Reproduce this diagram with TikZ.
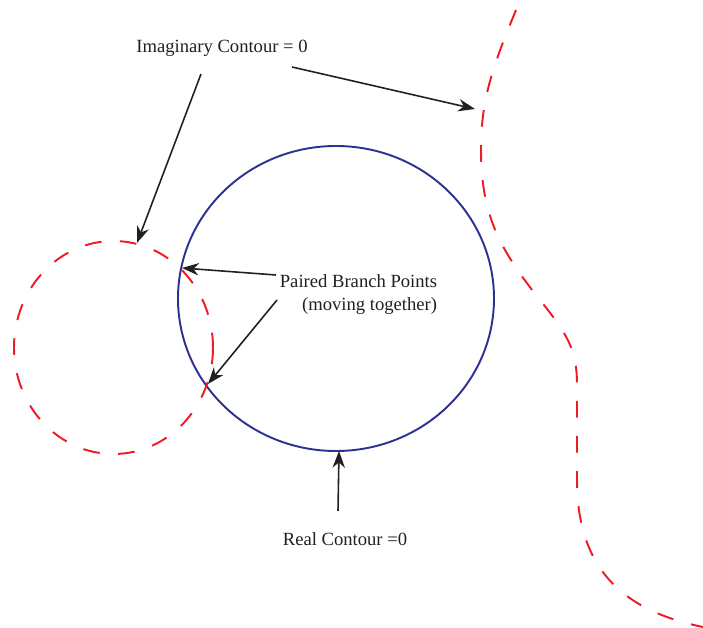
\documentclass[tikz,border=0pt]{standalone}
\usepackage{fontspec}
\setmainfont{Liberation Serif}
\usetikzlibrary{arrows.meta,positioning}
\definecolor{realcol}{RGB}{46,49,146}
\definecolor{imagcol}{RGB}{237,28,36}
\definecolor{textcol}{RGB}{35,31,32}

\begin{document}
\begin{tikzpicture}[
  x=0.02cm, y=-0.02cm,
  real contour/.style={draw=realcol, line width=1.1pt},
  imag contour/.style={draw=imagcol, line width=1.1pt,
                       dash pattern=on 9.5pt off 10.5pt},
  label text/.style={text=textcol, font=\fontsize{10.6}{13}\selectfont,
                     inner sep=0pt, align=right},
  pointer/.style={-{Stealth[length=9.5pt,width=7pt,inset=3pt]},
                  draw=textcol, line width=0.9pt},
]
  \useasboundingbox (0,0) rectangle (703,628);

  % Real contour (solid ellipse)
  \draw[real contour] (336,298.5) ellipse [x radius=158, y radius=152.5];

  % Imaginary contour, closed loop on the left
  \draw[imag contour] (113.5,347.5) ellipse [x radius=99.5, y radius=106.5];

  % Imaginary contour, open branch on the right
  \draw[imag contour] (516,10) .. controls (492,68) and (481,100) .. (481,150)
    .. controls (481,215) and (500,250) .. (540,300)
    .. controls (568,335) and (577,350) .. (577,385)
    -- (577,480) .. controls (577,575) and (630,612) .. (703,627);

  % Labels
  \node[label text] (imag) at (222,48) {Imaginary Contour = 0};
  \node[label text] (paired) at (358.5,294.5) {Paired Branch Points\\(moving together)};
  \node[label text] (real) at (345,539) {Real Contour =0};

  % Arrow ends
  \coordinate (imagA) at (201,74);
  \coordinate (imagB) at (292,67);
  \coordinate (pairA) at (276,275);
  \coordinate (pairB) at (277,300);
  \coordinate (realA) at (338,511);
  \coordinate (loopTop) at (137,243);
  \coordinate (branchTop) at (475,109);
  \coordinate (bp1) at (182,268);
  \coordinate (bp2) at (208,384);
  \coordinate (realBottom) at (339,451);

  % Pointers
  \draw[pointer] (imagA) -- (loopTop);
  \draw[pointer] (imagB) -- (branchTop);
  \draw[pointer] (pairA) -- (bp1);
  \draw[pointer] (pairB) -- (bp2);
  \draw[pointer] (realA) -- (realBottom);
\end{tikzpicture}
\end{document}
